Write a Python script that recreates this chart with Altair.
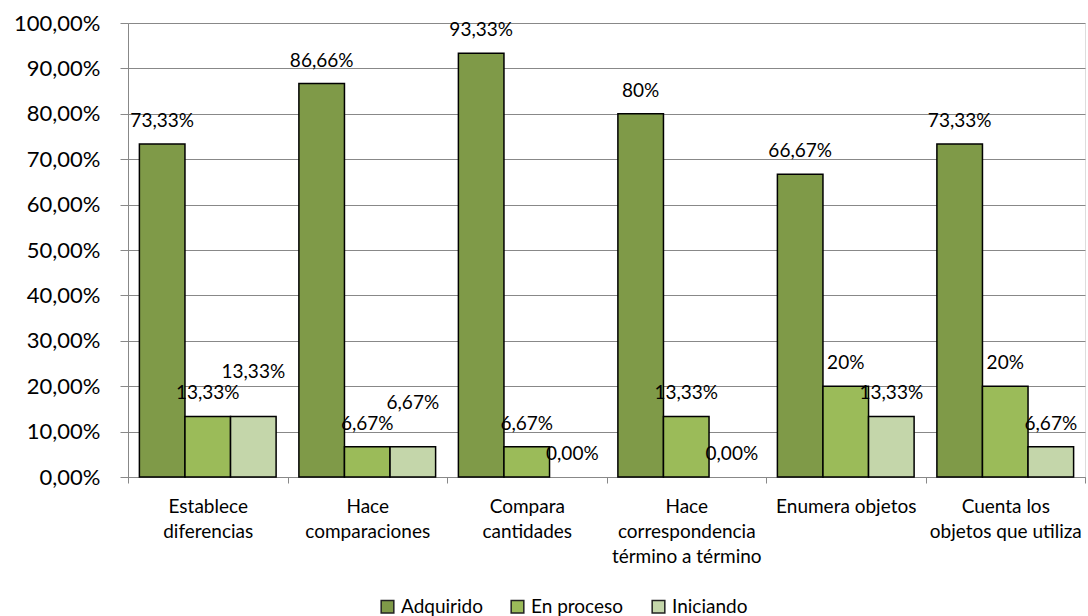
import altair as alt
import pandas as pd

categories = [
    "Establece|diferencias",
    "Hace|comparaciones",
    "Compara|cantidades",
    "Hace|correspondencia|término a término",
    "Enumera objetos",
    "Cuenta los|objetos que utiliza",
]
series = ["Adquirido", "En proceso", "Iniciando"]
adquirido = [73.33, 86.66, 93.33, 80.0, 66.67, 73.33]
en_proceso = [13.33, 6.67, 6.67, 13.33, 20.0, 20.0]
iniciando = [13.33, 6.67, 0.0, 0.0, 13.33, 6.67]
adquirido_lbl = ["73,33%", "86,66%", "93,33%", "80%", "66,67%", "73,33%"]
en_proceso_lbl = ["13,33%", "6,67%", "6,67%", "13,33%", "20%", "20%"]
iniciando_lbl = ["13,33%", "6,67%", "0,00%", "0,00%", "13,33%", "6,67%"]
colors = ["#7f9a48", "#9bbb59", "#c4d6aa"]

rows = []
for s, vals, lbls in zip(series, [adquirido, en_proceso, iniciando],
                         [adquirido_lbl, en_proceso_lbl, iniciando_lbl]):
    for i, (c, v, l) in enumerate(zip(categories, vals, lbls)):
        rows.append({"cat": c, "serie": s, "value": v / 100.0, "label": l,
                     "idx": i})
df = pd.DataFrame(rows)

FONT = "Lato"

x_enc = alt.X("cat:N", sort=categories, title=None,
              scale=alt.Scale(paddingInner=0, paddingOuter=0),
              axis=alt.Axis(labelExpr="split(datum.label, '|')", labelAngle=0,
                            labelFontSize=19, labelFont=FONT, labelColor="#000",
                            labelLineHeight=25, labelPadding=14,
                            tickBand="extent", tickSize=6, tickColor="#888",
                            domainColor="#888", grid=False, labelLimit=300))
xo_enc = alt.XOffset("serie:N", sort=series,
                     scale=alt.Scale(paddingOuter=0.25, paddingInner=0))
y_enc = alt.Y("value:Q", title=None,
              scale=alt.Scale(domain=[0, 1], nice=False),
              axis=alt.Axis(values=[i / 10 for i in range(11)],
                            labelExpr="replace(format(datum.value, '.2%'), '.', ',')",
                            labelFontSize=22, labelFont=FONT, labelColor="#000",
                            labelPadding=20, tickSize=8, tickColor="#888",
                            domainColor="#888", gridColor="#888", gridWidth=1))
color_enc = alt.Color("serie:N", sort=series,
                      scale=alt.Scale(domain=series, range=colors),
                      legend=alt.Legend(title=None, orient="none", direction="horizontal",
                                        legendX=250, legendY=574,
                                        symbolType="square", symbolSize=160,
                                        symbolStrokeColor="#222", symbolStrokeWidth=1.5,
                                        labelFontSize=19, labelFont=FONT,
                                        labelColor="#000", labelOffset=4,
                                        columnPadding=25))

base = alt.Chart(df)

shadow = base.transform_filter("datum.value > 0").mark_bar(
    color="#000", opacity=0.10, xOffset=4, yOffset=3, y2Offset=0).encode(
    x=x_enc, xOffset=xo_enc, y=y_enc, y2=alt.datum(0))
bars = base.mark_bar(stroke="#000", strokeWidth=1.5).encode(
    x=x_enc, xOffset=xo_enc, y=y_enc, color=color_enc,
    strokeOpacity=alt.condition("datum.value > 0", alt.value(1), alt.value(0)))

normal = base.transform_filter(
    "!(datum.serie == 'Iniciando' && datum.idx < 2)"
).mark_text(dy=-23, fontSize=19, font=FONT, color="#000").encode(
    x=x_enc, xOffset=xo_enc, y=y_enc, text="label:N")
lifted = base.transform_filter(
    "datum.serie == 'Iniciando' && datum.idx < 2"
).mark_text(dy=-44, fontSize=19, font=FONT, color="#000").encode(
    x=x_enc, xOffset=xo_enc, y=y_enc, text="label:N")

chart = alt.layer(shadow, bars, normal, lifted).properties(
    width=957, height=454,
    autosize=alt.AutoSizeParams(type="none"),
    padding={"left": 128, "top": 23, "right": 3, "bottom": 139},
).configure_view(stroke=None).configure(background="white")

chart.save("out.html", embed_options={"renderer": "svg", "actions": False})
